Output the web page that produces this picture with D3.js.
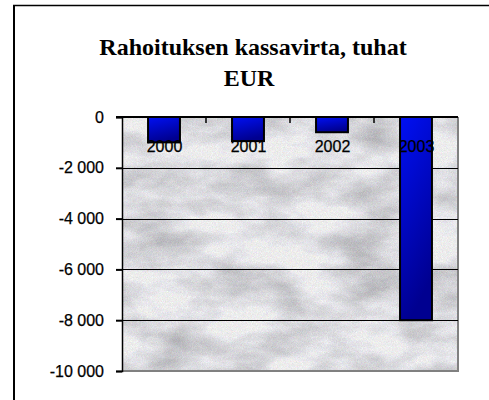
<!DOCTYPE html>
<html>
<head>
<meta charset="utf-8">
<script src="https://cdn.jsdelivr.net/npm/d3@7"></script>
<style>
  html, body { margin: 0; padding: 0; background: #fff; }
  svg { display: block; }
</style>
</head>
<body>
<div id="chart"></div>
<script>
// ---- data ----
const titleLines = ["Rahoituksen kassavirta, tuhat", "EUR"];
const categories = ["2000", "2001", "2002", "2003"];
const values = [-1000, -950, -600, -8000];
const yTicks = [0, -2000, -4000, -6000, -8000, -10000];
const yTickLabels = ["0", "-2 000", "-4 000", "-6 000", "-8 000", "-10 000"];

const W = 489, H = 400;
const plot = { left: 122, right: 458, top: 117, bottom: 371 };

const svg = d3.select("#chart").append("svg")
  .attr("width", W).attr("height", H);

const defs = svg.append("defs");
// marble texture
const f = defs.append("filter").attr("id", "marble")
  .attr("x", 0).attr("y", 0).attr("width", 1).attr("height", 1)
  .attr("color-interpolation-filters", "sRGB");
f.append("feTurbulence").attr("type", "fractalNoise")
  .attr("baseFrequency", "0.015 0.03").attr("numOctaves", 4).attr("seed", 7)
  .attr("result", "t");
f.append("feColorMatrix").attr("in", "t").attr("type", "matrix")
  .attr("values", "-0.6 0 0 0 1.22  -0.6 0 0 0 1.22  -0.6 0 0 0 1.24  0 0 0 0 1")
  .attr("result", "m");
f.append("feTurbulence").attr("type", "fractalNoise")
  .attr("baseFrequency", "1.2").attr("numOctaves", 1).attr("seed", 2)
  .attr("result", "n");
f.append("feComposite").attr("in", "m").attr("in2", "n")
  .attr("operator", "arithmetic")
  .attr("k1", 0).attr("k2", 0.8).attr("k3", 0.32).attr("k4", 0.02);

const grad = defs.append("linearGradient").attr("id", "barGrad")
  .attr("x1", 0).attr("y1", 0).attr("x2", 0.3).attr("y2", 1);
grad.append("stop").attr("offset", "0%").attr("stop-color", "#0010f4");
grad.append("stop").attr("offset", "100%").attr("stop-color", "#000090");

// outer frame
svg.append("line").attr("x1", 14).attr("x2", 14).attr("y1", 5).attr("y2", H)
  .attr("stroke", "#000").attr("stroke-width", 2);
svg.append("line").attr("x1", 13).attr("x2", W).attr("y1", 5.5).attr("y2", 5.5)
  .attr("stroke", "#000").attr("stroke-width", 1.5);

// title
const title = svg.append("text")
  .attr("font-family", "'Liberation Serif', 'Times New Roman', serif")
  .attr("font-weight", "bold").attr("font-size", 24)
  .attr("text-anchor", "middle").attr("fill", "#000");
title.append("tspan").attr("x", 253).attr("y", 55).text(titleLines[0]);
title.append("tspan").attr("x", 249).attr("y", 86).text(titleLines[1]);

// scales
const x = d3.scaleBand().domain(categories)
  .range([plot.left, plot.right]).paddingInner(0.62).paddingOuter(0.31);
const y = d3.scaleLinear().domain([-10000, 0]).range([plot.bottom, plot.top]);

// plot background
svg.append("rect")
  .attr("x", plot.left).attr("y", plot.top)
  .attr("width", plot.right - plot.left).attr("height", plot.bottom - plot.top)
  .attr("fill", "#ddd").attr("filter", "url(#marble)");
// grey right/bottom border
svg.append("path")
  .attr("d", `M${plot.right},${plot.top} V${plot.bottom} H${plot.left}`)
  .attr("fill", "none").attr("stroke", "#808080").attr("stroke-width", 2);

// gridlines
svg.append("g").selectAll("line")
  .data(yTicks.filter(d => d !== 0 && d !== -10000))
  .join("line")
  .attr("x1", plot.left).attr("x2", plot.right)
  .attr("y1", d => Math.round(y(d)) + 0.5).attr("y2", d => Math.round(y(d)) + 0.5)
  .attr("stroke", "#000").attr("stroke-width", 1.2);

// bars
svg.append("g").selectAll("rect")
  .data(values)
  .join("rect")
  .attr("x", (d, i) => x(categories[i]))
  .attr("y", y(0))
  .attr("width", x.bandwidth())
  .attr("height", d => y(d) - y(0))
  .attr("fill", "url(#barGrad)")
  .attr("stroke", "#000").attr("stroke-width", 2);

// y axis
const yAxis = d3.axisLeft(y).tickValues(yTicks)
  .tickFormat((d, i) => yTickLabels[i]).tickSize(6).tickPadding(12);
const gy = svg.append("g").attr("transform", `translate(${plot.left},0)`).call(yAxis);
gy.select(".domain").attr("stroke", "#000").attr("stroke-width", 1.5);
gy.selectAll(".tick line").attr("stroke", "#000").attr("stroke-width", 2);
gy.selectAll(".tick text")
  .attr("font-family", "'Liberation Sans', Arial, sans-serif")
  .attr("font-size", 16).attr("fill", "#000")
  .attr("stroke", "#000").attr("stroke-width", 0.25);

// x axis at zero line, ticks between categories
const step = x.step();
const boundaries = categories.slice(1).map(c => x(c) - step * x.paddingInner() / 2);
const gx = svg.append("g");
gx.append("line").attr("x1", plot.left - 6).attr("x2", plot.right)
  .attr("y1", y(0)).attr("y2", y(0)).attr("stroke", "#000").attr("stroke-width", 2);
gx.selectAll("line.tk").data(boundaries).join("line").attr("class", "tk")
  .attr("x1", d => d).attr("x2", d => d)
  .attr("y1", y(0)).attr("y2", y(0) + 6)
  .attr("stroke", "#000").attr("stroke-width", 1.5);
gx.selectAll("text").data(categories).join("text")
  .attr("x", d => x(d) + x.bandwidth() / 2 + 0.5)
  .attr("y", y(0) + 35)
  .attr("text-anchor", "middle")
  .attr("font-family", "'Liberation Sans', Arial, sans-serif")
  .attr("font-size", 16).attr("fill", "#000")
  .attr("stroke", "#000").attr("stroke-width", 0.25)
  .text(d => d);
</script>
</body>
</html>
